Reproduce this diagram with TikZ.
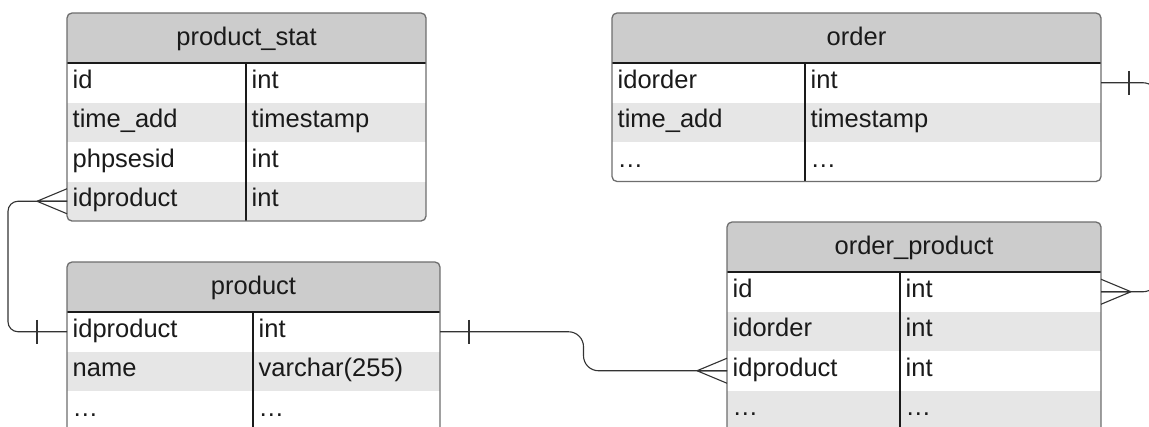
\documentclass[tikz,border=0pt]{standalone}
\usepackage{fontspec}
\setmainfont{Liberation Sans}
\usetikzlibrary{calc}
\definecolor{hdrgray}{HTML}{CCCCCC}
\definecolor{rowgray}{HTML}{E6E6E6}
\definecolor{bordergray}{HTML}{6E6E6E}
\definecolor{inkc}{HTML}{1A1A1A}
\definecolor{linec}{HTML}{333333}
\tikzset{
  cellbox/.style={draw=none, inner sep=0pt, outer sep=0pt, anchor=north west},
  celltext/.style={inner xsep=5.5pt, inner ysep=0pt, anchor=base west, text=inkc, font=\fontsize{25.5}{30}\selectfont},
  hdrtext/.style={inner sep=0pt, anchor=base, text=inkc, font=\fontsize{25.5}{30}\selectfont},
  tborder/.style={draw=bordergray, line width=1.3pt, rounded corners=5pt},
  sepline/.style={draw=inkc, line width=1.2pt},
  conn/.style={draw=linec, line width=1.1pt},
}
% #1 name, #2 x1, #3 x2, #4 xdiv, #5 ytop, #6 ybottom, #7 title, #8 rows key/type/fill
\newcommand\ertable[8]{%
  \begin{scope}
    \clip[rounded corners=5pt] (#2,#5) rectangle (#3,#6);
    \fill[white] (#2,#5) rectangle (#3,#6);
    \node[cellbox, fill=hdrgray, minimum width={#3pt-#2pt}, minimum height=50pt] (#1-h) at (#2,#5) {};
    \foreach \k/\t/\c [count=\i] in {#8} {
      \pgfmathsetmacro\yy{#5+50+(\i-1)*39.5}
      \node[cellbox, fill=\c, minimum width={#3pt-#2pt}, minimum height=39.5pt] (#1-r\i) at (#2,\yy) {};
      \node[celltext] (#1-k\i) at (#2,\yy+25) {\k};
      \node[celltext] (#1-t\i) at (#4,\yy+25) {\t};
    }
  \end{scope}
  \node[hdrtext] (#1-title) at ({(#2+#3)/2},#5+32) {#7};
  \draw[sepline] (#2,#5+50) -- (#3,#5+50);
  \draw[sepline] (#4,#5+50) -- (#4,#6);
  \draw[tborder] (#2,#5) rectangle (#3,#6);
}
\newcommand\crowfoot[2]{%
  \draw[conn] ($(#1)+(#2*30,0)$) -- ($(#1)+(0,-12.5)$)
              ($(#1)+(#2*30,0)$) -- (#1)
              ($(#1)+(#2*30,0)$) -- ($(#1)+(0,12.5)$);}
\newcommand\onebar[2]{%
  \draw[conn] ($(#1)+(#2,-12)$) -- ($(#1)+(#2,12)$);}
\begin{document}
\begin{tikzpicture}[x=1pt,y=-1pt]
\useasboundingbox (0,0) rectangle (1149,426);
\clip (0,0) rectangle (1149,426);
\fill[white] (0,0) rectangle (1149,426);

\ertable{ps}{67}{426}{246}{13}{221}{product\_stat}{id/int/white, time\_add/timestamp/rowgray, phpsesid/int/white, idproduct/int/rowgray}
\ertable{p}{67}{440}{253}{262}{450}{product}{idproduct/int/white, name/varchar(255)/rowgray, \dots/\dots/white}
\ertable{o}{612}{1101}{805}{13}{181.5}{order}{idorder/int/white, time\_add/timestamp/rowgray, \dots/\dots/white}
\ertable{op}{727}{1101}{900}{222}{450}{order\_product}{id/int/white, idorder/int/rowgray, idproduct/int/white, \dots/\dots/rowgray}

% product_stat.idproduct >-- product.idproduct
\draw[conn, rounded corners=10pt] (ps-r4.west) -- ++(-59,0) |- (p-r1.west);
\crowfoot{ps-r4.west}{-1}
\onebar{p-r1.west}{-30}

% product.idproduct --< order_product.idproduct
\coordinate (mid) at ($(p-r1.east)!0.5!(op-r3.west)$);
\draw[conn, rounded corners=15pt] (p-r1.east) -- (p-r1.east -| mid) -- (op-r3.west -| mid) -- (op-r3.west);
\onebar{p-r1.east}{29}
\crowfoot{op-r3.west}{-1}

% order.idorder --< order_product.id
\draw[conn, rounded corners=15pt] (o-r1.east) -- ++(57,0) |- (op-r1.east);
\onebar{o-r1.east}{28}
\crowfoot{op-r1.east}{1}
\end{tikzpicture}
\end{document}
